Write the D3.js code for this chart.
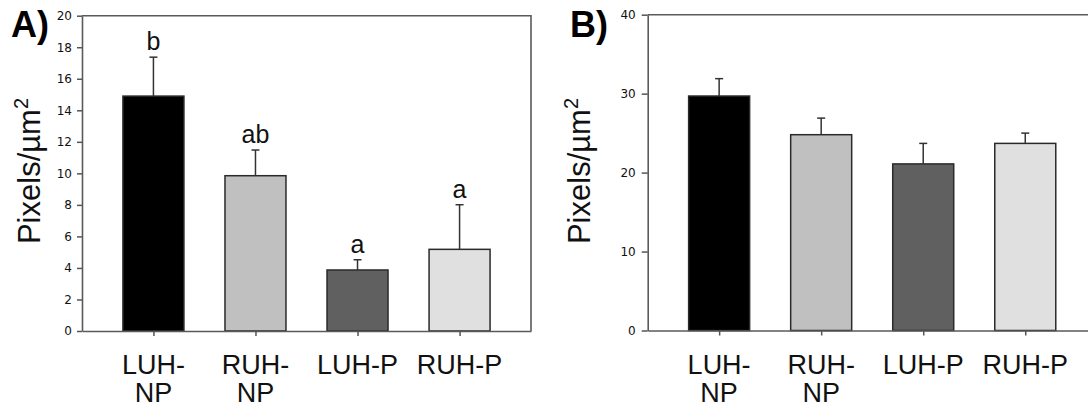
<!DOCTYPE html>
<meta charset="utf-8">
<style>
	body { margin: 0; background: #fff; }
	svg { display: block; }
	.tick text { font-family: "DejaVu Sans", sans-serif; font-size: 12px; fill: #111; }
	.tick line { stroke: #555; stroke-width: 1.5; }
	.frame { stroke: #5a5a5a; stroke-width: 1.6; fill: none; }
	.lab { font-family: "Liberation Sans", Arial, sans-serif; fill: #111; }
</style>
<body>
<svg width="1088" height="407"></svg>
<script src="https://cdn.jsdelivr.net/npm/d3@7/dist/d3.min.js"></script>
<script>
	// groups and labels
	var groups = ["LUH-NP", "RUH-NP", "LUH-P", "RUH-P"];
	var xLabelLines = [["LUH-", "NP"], ["RUH-", "NP"], ["LUH-P"], ["RUH-P"]];
	var barFill = ["#000000", "#c0c0c0", "#606060", "#e0e0e0"];

	// panel A
	var meanA = [14.9, 9.85, 3.87, 5.18];
	var errA = [2.47, 1.63, 0.65, 2.83];
	var lettersA = ["b", "ab", "a", "a"];
	var ticksA = [0, 2, 4, 6, 8, 10, 12, 14, 16, 18, 20];

	// panel B
	var meanB = [29.7, 24.8, 21.1, 23.7];
	var errB = [2.2, 2.1, 2.6, 1.3];
	var ticksB = [0, 10, 20, 30, 40];

	var svg = d3.select("svg");

	function drawPanel(p) {
		var g = svg.append("g");

		var x = d3.scalePoint()
			.domain(groups)
			.range([p.left, p.right])
			.padding(0.7);
		var y = d3.scaleLinear()
			.domain([0, p.max])
			.range([p.bottom, p.top]);

		var barW = 61;

		// bars
		g.selectAll("rect.bar")
			.data(groups)
			.enter().append("rect")
			.attr("class", "bar")
			.attr("x", function (d) { return x(d) - barW / 2; })
			.attr("y", function (d, i) { return y(p.mean[i]); })
			.attr("width", barW)
			.attr("height", function (d, i) { return y(0) - y(p.mean[i]); })
			.style("fill", function (d, i) { return barFill[i]; })
			.style("stroke", "#2a2a2a")
			.style("stroke-width", 1.5);

		// error bars (upper only)
		var eb = g.selectAll("g.err")
			.data(groups)
			.enter().append("g")
			.attr("class", "err")
			.style("stroke", "#333")
			.style("stroke-width", 1.5);
		eb.append("line")
			.attr("x1", function (d) { return x(d); })
			.attr("x2", function (d) { return x(d); })
			.attr("y1", function (d, i) { return y(p.mean[i]); })
			.attr("y2", function (d, i) { return y(p.mean[i] + p.err[i]); });
		eb.append("line")
			.attr("x1", function (d) { return x(d) - 4; })
			.attr("x2", function (d) { return x(d) + 4; })
			.attr("y1", function (d, i) { return y(p.mean[i] + p.err[i]); })
			.attr("y2", function (d, i) { return y(p.mean[i] + p.err[i]); });

		// significance letters
		if (p.letters) {
			g.selectAll("text.sig")
				.data(groups)
				.enter().append("text")
				.attr("class", "lab")
				.attr("x", function (d) { return x(d); })
				.attr("y", function (d, i) { return y(p.mean[i] + p.err[i]) - 7; })
				.attr("text-anchor", "middle")
				.style("font-size", "25px")
				.text(function (d, i) { return p.letters[i]; });
		}

		// y axis
		var yAxis = g.append("g")
			.attr("transform", "translate(" + p.left + ",0)")
			.call(d3.axisLeft(y).tickValues(p.ticks).tickSize(p.tick).tickPadding(p.pad).tickSizeOuter(0));
		yAxis.select(".domain").attr("class", "frame");

		// x axis
		var xAxis = g.append("g")
			.attr("transform", "translate(0," + p.bottom + ")")
			.call(d3.axisBottom(x).tickSize(5).tickSizeOuter(0).tickFormat(""));
		xAxis.select(".domain").attr("class", "frame");

		// top and right frame
		g.append("path")
			.attr("class", "frame")
			.attr("d", "M" + p.left + "," + p.top + "H" + p.right + "V" + p.bottom);

		// x labels
		var xl = g.selectAll("text.xl")
			.data(groups)
			.enter().append("text")
			.attr("class", "lab")
			.attr("text-anchor", "middle")
			.style("font-size", "27px");
		xl.selectAll("tspan")
			.data(function (d, i) { return xLabelLines[i].map(function (t) { return { t: t, cx: x(d) }; }); })
			.enter().append("tspan")
			.attr("x", function (d) { return d.cx; })
			.attr("y", function (d, j) { return 374 + j * 28; })
			.text(function (d) { return d.t; });

		// y label
		var yl = g.append("text")
			.attr("class", "lab")
			.attr("text-anchor", "middle")
			.attr("transform", "translate(" + p.yLabelX + ",171) rotate(-90)")
			.style("font-size", "31px");
		yl.append("tspan").text("Pixels/\u00b5m");
		yl.append("tspan").attr("dy", -12).style("font-size", "20px").text("2");

		// panel letter
		g.append("text")
			.attr("class", "lab")
			.attr("x", p.letterX)
			.attr("y", 37)
			.style("font-size", "36px")
			.style("font-weight", "bold")
			.style("fill", "#000")
			.text(p.name);
	}

	drawPanel({
		name: "A)", letterX: 11,
		left: 82, right: 531, top: 15.7, bottom: 331,
		max: 20, ticks: ticksA, tick: 5, pad: 5,
		mean: meanA, err: errA, letters: lettersA,
		yLabelX: 40
	});

	drawPanel({
		name: "B)", letterX: 570,
		left: 647.7, right: 1096.7, top: 14.7, bottom: 330.5,
		max: 40, ticks: ticksB, tick: 6, pad: 6,
		mean: meanB, err: errB, letters: null,
		yLabelX: 590
	});
</script>
</body>
